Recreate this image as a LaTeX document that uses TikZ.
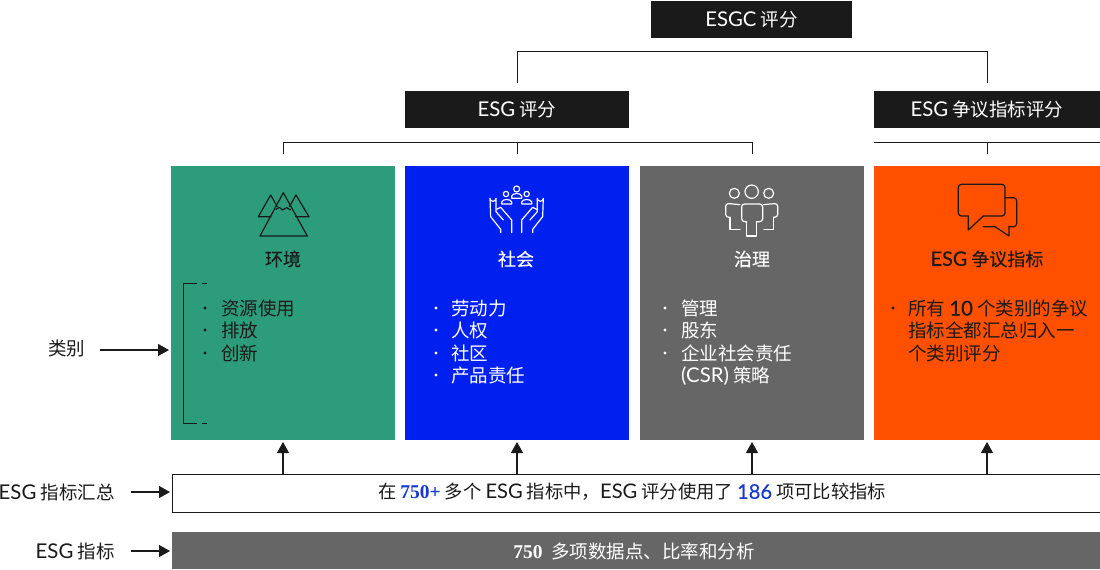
\documentclass[tikz,border=0pt]{standalone}
\usepackage{fontspec}
\setmainfont{Noto Sans CJK SC}
\newfontfamily\latfont[Scale=1.1]{Lato}
\newfontfamily\medfont[FakeBold=0.35]{Noto Sans CJK SC}
\newfontfamily\medlatfont[Scale=1.1,FakeBold=0.35]{Lato}
\newfontfamily\numfont{Liberation Serif}
\newcommand{\lat}[1]{{\latfont #1}}
\usetikzlibrary{arrows.meta,positioning}
\definecolor{Ink}{HTML}{1A1A1A}
\definecolor{Leaf}{HTML}{2C9C7B}
\definecolor{Royal}{HTML}{0020F0}
\definecolor{Slate}{HTML}{666666}
\definecolor{Ember}{HTML}{FF5000}
\definecolor{Marine}{HTML}{1438D0}
\tikzset{
  panel/.style={anchor=north west,inner sep=0pt,outer sep=0pt,minimum width=224pt,minimum height=274pt},
  scorebox/.style={anchor=north west,fill=Ink,text=white,inner sep=0pt,outer sep=0pt,minimum height=37pt,font=\fontsize{18.5}{22}\selectfont},
  paneltitle/.style={font=\fontsize{18}{21}\medfont,inner sep=0pt},
  itemtext/.style={anchor=west,inner sep=0pt,text height=18pt,text depth=3pt,font=\fontsize{18.5}{22}\selectfont},
  sidelabel/.style={anchor=east,inner sep=0pt,outer xsep=16.5pt,text=Ink,font=\fontsize{18.5}{22}\selectfont},
  pointer/.style={draw=Ink,line width=1.1pt,-{Triangle[length=11pt,width=12pt]},shorten >=2pt},
  treeline/.style={draw=Ink,line width=1pt},
  iconline/.style={line width=1.2pt,line join=round,line cap=round},
}
\begin{document}
\begin{tikzpicture}[x=1pt,y=-1pt]
  \useasboundingbox (0,0) rectangle (1100,570);

  \node[scorebox,minimum width=201pt] (esgcbox) at (651,1) {\lat{ESGC} 评分};
  \node[scorebox,minimum width=224pt] (esgbox) at (405,91) {\lat{ESG} 评分};
  \node[scorebox,minimum width=226pt] (contrbox) at (874,91) {\lat{ESG} 争议指标评分};

  \node[panel,fill=Leaf] (envbox) at (171,166) {};
  \node[panel,fill=Royal] (socbox) at (405,166) {};
  \node[panel,fill=Slate] (govbox) at (640,166) {};
  \node[panel,fill=Ember,minimum width=226pt] (conbox) at (874,166) {};

  \coordinate (toptie) at (0,51);
  \coordinate (topfoot) at (0,83);
  \coordinate (midtie) at (0,142);
  \coordinate (midfoot) at (0,154);
  \draw[treeline] (esgbox.north |- topfoot) -- (esgbox.north |- toptie) -- (contrbox.north |- toptie) -- (contrbox.north |- topfoot);
  \draw[treeline] (envbox.north |- midfoot) -- (envbox.north |- midtie) -- (govbox.north |- midtie) -- (govbox.north |- midfoot);
  \draw[treeline] (socbox.north |- midtie) -- (socbox.north |- midfoot);
  \draw[treeline] (conbox.north west |- midtie) -- (conbox.north east |- midtie);
  \draw[treeline] (conbox.north |- midtie) -- (conbox.north |- midfoot);

  \node[paneltitle,text=Ink] (envtitle) at (283,259) {环境};
  \node[paneltitle,text=white] (soctitle) at (516,259) {社会};
  \node[paneltitle,text=white] (govtitle) at (752,259) {治理};
  \node[paneltitle,text=Ink] (contitle) at (987,259) {{\medlatfont ESG} 争议指标};

  \foreach \t/\yy [count=\i] in {资源使用/308,排放/330,创新/353}{
    \node[itemtext,text=Ink] (envitem\i) at (221,\yy) {\t};
    \fill[Ink] (205,\yy) circle (1.6);
  }
  \foreach \t/\yy [count=\i] in {劳动力/308,人权/330,社区/353,产品责任/375}{
    \node[itemtext,text=white] (socitem\i) at (451,\yy) {\t};
    \fill[white] (436,\yy) circle (1.6);
  }
  \foreach \t/\yy [count=\i] in {管理/308,股东/330,企业社会责任/353}{
    \node[itemtext,text=white] (govitem\i) at (681,\yy) {\t};
    \fill[white] (665,\yy) circle (1.6);
  }
  \node[itemtext,text=white] (govitem4) at (681,375) {\lat{(CSR)} 策略};
  \fill[Ink] (893,308) circle (1.6);
  \node[itemtext,text=Ink] (conitem1) at (908,308) {所有 {\medlatfont 10} 个类别的争议};
  \node[itemtext,text=Ink] (conitem2) at (908,330) {指标全都汇总归入一};
  \node[itemtext,text=Ink] (conitem3) at (908,353) {个类别评分};

  \draw[Ink,line width=1pt] (197,283) -- (183.5,283) -- (183.5,423) -- (197,423);
  \draw[Ink,line width=1pt] (202,283) -- (207,283);
  \draw[Ink,line width=1pt] (202,423) -- (207,423);

  \begin{scope}[shift={(160,160)},x=0.3333pt,y=-0.3333pt,iconline,draw=Ink]
    \draw (300,228) -- (370,98) -- (442,228) -- cycle;
    \draw (352,140) -- (332,105) -- (295,170) -- (333,170);
    \draw (388,140) -- (408,105) -- (447,170) -- (407,170);
    \draw (348,148) -- (358,142) -- (368,150) -- (380,143) -- (392,150);
  \end{scope}
  \begin{scope}[shift={(470,170)},x=0.3333pt,y=-0.3333pt,iconline,draw=white]
    \draw (92,188) -- (92,178) -- (62,140) -- (60,85) arc[start angle=180,end angle=0,radius=9] -- (78,125) -- (100,150);
    \draw (80,118) -- (92,112) -- (125,150) -- (125,188);
    \draw (188,188) -- (188,178) -- (218,140) -- (220,85) arc[start angle=0,end angle=180,radius=9] -- (202,125) -- (180,150);
    \draw (200,118) -- (188,112) -- (155,150) -- (155,188);
    \foreach \x/\yy/\r in {108/72/8,140/57/9,170/72/8}{\draw (\x,\yy) circle (\r);}
    \draw (95,102) -- (125,102) -- (125,96) .. controls (122,86) and (98,86) .. (95,96) -- cycle;
    \draw (125,85) -- (155,85) -- (155,78) .. controls (152,68) and (128,68) .. (125,78) -- cycle;
    \draw (155,102) -- (185,102) -- (185,96) .. controls (182,86) and (158,86) .. (155,96) -- cycle;
  \end{scope}
  \begin{scope}[shift={(710,170)},x=0.3333pt,y=-0.3333pt,iconline,draw=white]
    \foreach \x/\yy/\r in {73/70/15,125/65/20,176/70/15}{\draw (\x,\yy) circle (\r);}
    \draw[rounded corners=3pt] (110,155) -- (95,155) -- (95,102) -- (158,102) -- (158,155) -- (140,155);
    \draw (140,155) -- (140,198) -- (110,198) -- (110,155);
    \draw[rounded corners=3pt] (90,104) -- (47,100) -- (47,142) -- (60,142);
    \draw (60,142) -- (60,178) -- (90,178);
    \draw[rounded corners=3pt] (160,104) -- (203,100) -- (203,142) -- (190,142);
    \draw (190,142) -- (190,178) -- (162,178);
  \end{scope}
  \begin{scope}[shift={(940,170)},x=0.3333pt,y=-0.3333pt,iconline,draw=Ink]
    \draw[rounded corners=3pt] (85,138) -- (55,138) -- (55,43) -- (195,43) -- (195,138) -- (130,138);
    \draw (130,138) -- (85,180) -- (85,138);
    \draw[rounded corners=3pt] (195,83) -- (230,83) -- (230,170) -- (207,170);
    \draw (207,170) -- (207,198) -- (165,170) -- (130,170);
  \end{scope}

  \node[anchor=north west,draw=Ink,line width=1.2pt,inner sep=0pt,minimum width=928pt,minimum height=38pt] (sumbox) at (172,474) {};
  \node[anchor=north west,fill=Slate,inner sep=0pt,outer sep=0pt,minimum width=928pt,minimum height=37pt] (basebox) at (172,532) {};
  \node[inner sep=0pt,text=Ink,font=\fontsize{18.3}{22}\selectfont] (sumtext) at (632,492) {在 {\numfont\bfseries\fontsize{19.5}{22}\selectfont\color{Marine}750+} 多个 \lat{ESG} 指标中，\lat{ESG} 评分使用了 {\medlatfont\color{Marine}186} 项可比较指标};
  \node[inner sep=0pt,text=white,font=\fontsize{18.5}{22}\selectfont] (basetext) at (634,551) {{\numfont\bfseries\fontsize{19.5}{22}\selectfont 750}\ \ 多项数据点、比率和分析};

  \foreach \b in {envbox,socbox,govbox,conbox}{
    \draw[pointer] (\b.south |- sumbox.north) -- (\b.south);
  }

  \node[sidelabel,outer xsep=15pt] (catlabel) at (100,349) {类别};
  \node[sidelabel] (sumlabel) at (131,492) {\lat{ESG} 指标汇总};
  \node[sidelabel] (baselabel) at (131,551) {\lat{ESG} 指标};
  \draw[pointer] (catlabel.east |- 0,350) -- (envbox.west |- 0,350);
  \draw[pointer] (sumlabel.east) -- (sumbox.west |- sumlabel.east);
  \draw[pointer] (baselabel.east) -- (basebox.west |- baselabel.east);
\end{tikzpicture}
\end{document}
